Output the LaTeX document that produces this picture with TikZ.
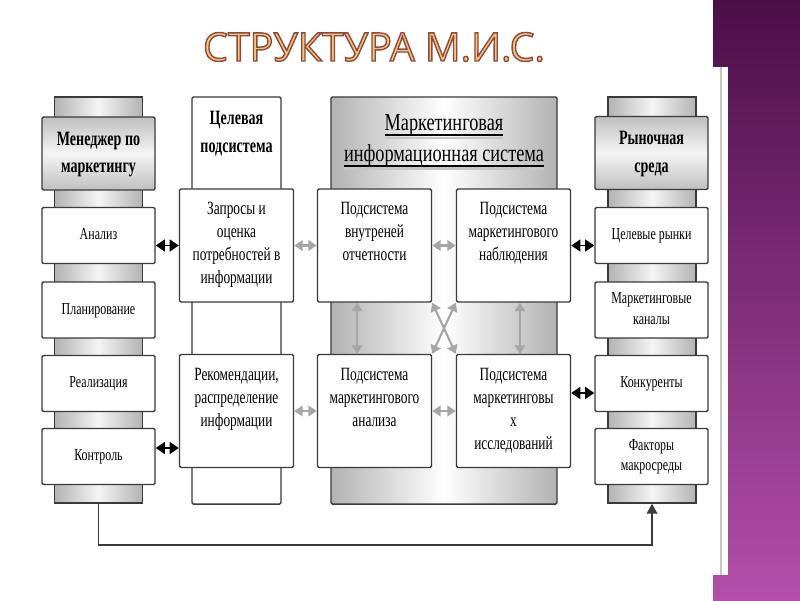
\documentclass[tikz,border=0pt]{standalone}
\usepackage{fontspec}
\setmainfont{Liberation Serif}
\newfontfamily\titlefont{Open Sans}[RawFeature={embolden=3.5}]
\usepackage{graphicx}
\usepackage{xcolor}
\usetikzlibrary{arrows.meta, positioning}

\definecolor{plum}{HTML}{4B0E47}
\definecolor{orchid}{HTML}{B34FAB}
\definecolor{titlefill}{HTML}{F7C47E}
\definecolor{edge}{HTML}{3A3A3A}

% stretched multi-line text
\newcommand{\tallt}[2][1.4]{\scalebox{1}[#1]{\begin{tabular}{@{}c@{}}#2\end{tabular}}}
% underlined header line
\newcommand{\ulmis}[1]{\setbox0=\hbox{#1}\rlap{\color{gray!45}\rule[-4.4pt]{\wd0}{1.3pt}}\rlap{\rule[-3pt]{\wd0}{1pt}}\box0}

\begin{document}
\begin{tikzpicture}[x=0.025cm, y=-0.025cm,
    box/.style={draw=edge, fill=white, line width=1pt, rounded corners=1pt, inner sep=0pt},
    sidebox/.style={box, minimum width=2.825cm, minimum height=1.4cm, font=\fontsize{8.5}{10.2}\selectfont},
    sidehead/.style={box, minimum width=2.825cm, minimum height=1.825cm, top color=gray!50, bottom color=gray!50, middle color=gray!8, font=\bfseries\fontsize{10}{13.5}\selectfont},
    plate/.style={draw=edge, line width=1pt, left color=gray!60, right color=gray!60, middle color=gray!8, inner sep=0pt, minimum width=2.2cm, minimum height=10.15cm},
    midbox/.style={box, minimum width=2.85cm, minimum height=2.825cm},
    txt/.style={inner sep=0pt, font=\fontsize{9.5}{11.7}\selectfont},
    garrow/.style={{Triangle[length=6pt,width=7.5pt]}-{Triangle[length=6pt,width=7.5pt]}, gray!70, line width=1.5pt},
    barrow/.style={{Triangle[length=6.5pt,width=8.5pt]}-{Triangle[length=6.5pt,width=8.5pt]}, black, line width=1.2pt}]
    \fill[white] (0,0) rectangle (800,600);
    \useasboundingbox (0,0) rectangle (800,600);

    % slide frame
    \fill[top color=plum, bottom color=orchid] (713,0) rectangle (800,600);
    \fill[white] (0,67) rectangle (728,575);
    \draw[gray!45, line width=1pt] (721,67) -- (721,575);

    \node[font={\titlefont\fontsize{28}{30}\selectfont}, text=titlefill, inner sep=0pt] (title) at (374,47)
        {\special{pdf:literal direct 0.55 0.29 0.24 RG}СТРУКТУРА М.И.С.};

    % columns
    \node[plate] (lplate) at (98.5,300) {};
    \node[plate] (rplate) at (652,300) {};
    \node[box, minimum width=2.225cm, minimum height=10.175cm] (tgt) at (236.5,300.5) {};
    \node[box, left color=gray!60, right color=gray!60, middle color=white, minimum width=5.65cm, minimum height=10.175cm] (mis) at (444,300.5) {};

    \node[sidehead] (mgr) at (98.5,153.5) {\tallt[1.45]{Менеджер по\\маркетингу}};
    \node[sidehead] (env) at (651.5,153) {\tallt[1.45]{Рыночная\\среда}};
    \node[txt, font=\bfseries\fontsize{10}{13.5}\selectfont] (tgtT) at (236.5,133) {\tallt[1.45]{Целевая\\подсистема}};
    \node[txt, font=\fontsize{13}{16.5}\selectfont] (misT) at (444,140) {\tallt[1.33]{\ulmis{Маркетинговая}\\\ulmis{информационная система}}};

    \node[sidebox] (ana) at (98.5,235.5) {\tallt{Анализ}};
    \node[sidebox] (plan) at (98.5,310) {\tallt{Планирование}};
    \node[sidebox] (real) at (98.5,383.5) {\tallt{Реализация}};
    \node[sidebox] (ctrl) at (98.5,456.5) {\tallt{Контроль}};
    \node[sidebox] (tmkt) at (651.5,235.5) {\tallt{Целевые рынки}};
    \node[sidebox] (chan) at (651.5,310) {\tallt{Маркетинговые\\каналы}};
    \node[sidebox] (comp) at (651.5,383.5) {\tallt{Конкуренты}};
    \node[sidebox] (macro) at (651.5,456.5) {\tallt{Факторы\\макросреды}};

    \node[midbox] (req) at (236.5,245.5) {};
    \node[midbox] (rec) at (236.5,411) {};
    \node[midbox] (vnutr) at (374.5,245.5) {};
    \node[midbox] (nabl) at (513.5,245.5) {};
    \node[midbox] (anal) at (374.5,411) {};
    \node[midbox] (issl) at (513.5,411) {};
    \node[txt, below=7pt of req.north] (reqT) {\tallt{Запросы и\\оценка\\потребностей в\\информации}};
    \node[txt, below=7pt of rec.north] (recT) {\tallt{Рекомендации,\\распределение\\информации}};
    \node[txt, below=7pt of vnutr.north] (vnutrT) {\tallt{Подсистема\\внутреней\\отчетности}};
    \node[txt, below=7pt of nabl.north] (nablT) {\tallt{Подсистема\\маркетингового\\наблюдения}};
    \node[txt, below=7pt of anal.north] (analT) {\tallt{Подсистема\\маркетингового\\анализа}};
    \node[txt, below=7pt of issl.north] (isslT) {\tallt{Подсистема\\маркетинговы\\х\\исследований}};

    % links
    \coordinate (yc) at (0,448);
    \coordinate (yk) at (0,393);
    \coordinate (vl) at (357,0);
    \coordinate (vr) at (520,0);
    \coordinate (fb) at (0,545);
    \draw[barrow] (ana.east |- req.west) -- (req.west);
    \draw[barrow] (ctrl.east |- yc) -- (rec.west |- yc);
    \draw[garrow] (req.east) -- (vnutr.west);
    \draw[garrow] (rec.east) -- (anal.west);
    \draw[garrow] (vnutr.east) -- (nabl.west);
    \draw[garrow] (anal.east) -- (issl.west);
    \draw[barrow] (nabl.east) -- (tmkt.west |- nabl.east);
    \draw[barrow] (issl.east |- yk) -- (comp.west |- yk);
    \draw[garrow] (vnutr.south -| vl) -- (anal.north -| vl);
    \draw[garrow] (nabl.south -| vr) -- (issl.north -| vr);
    \draw[garrow] (vnutr.south east) -- (issl.north west);
    \draw[garrow] (nabl.south west) -- (anal.north east);
    \draw[edge, line width=1.2pt, -{Triangle[length=7pt,width=7.5pt]}] (lplate.south) -- (lplate.south |- fb) -| (rplate.south);
\end{tikzpicture}
\end{document}
